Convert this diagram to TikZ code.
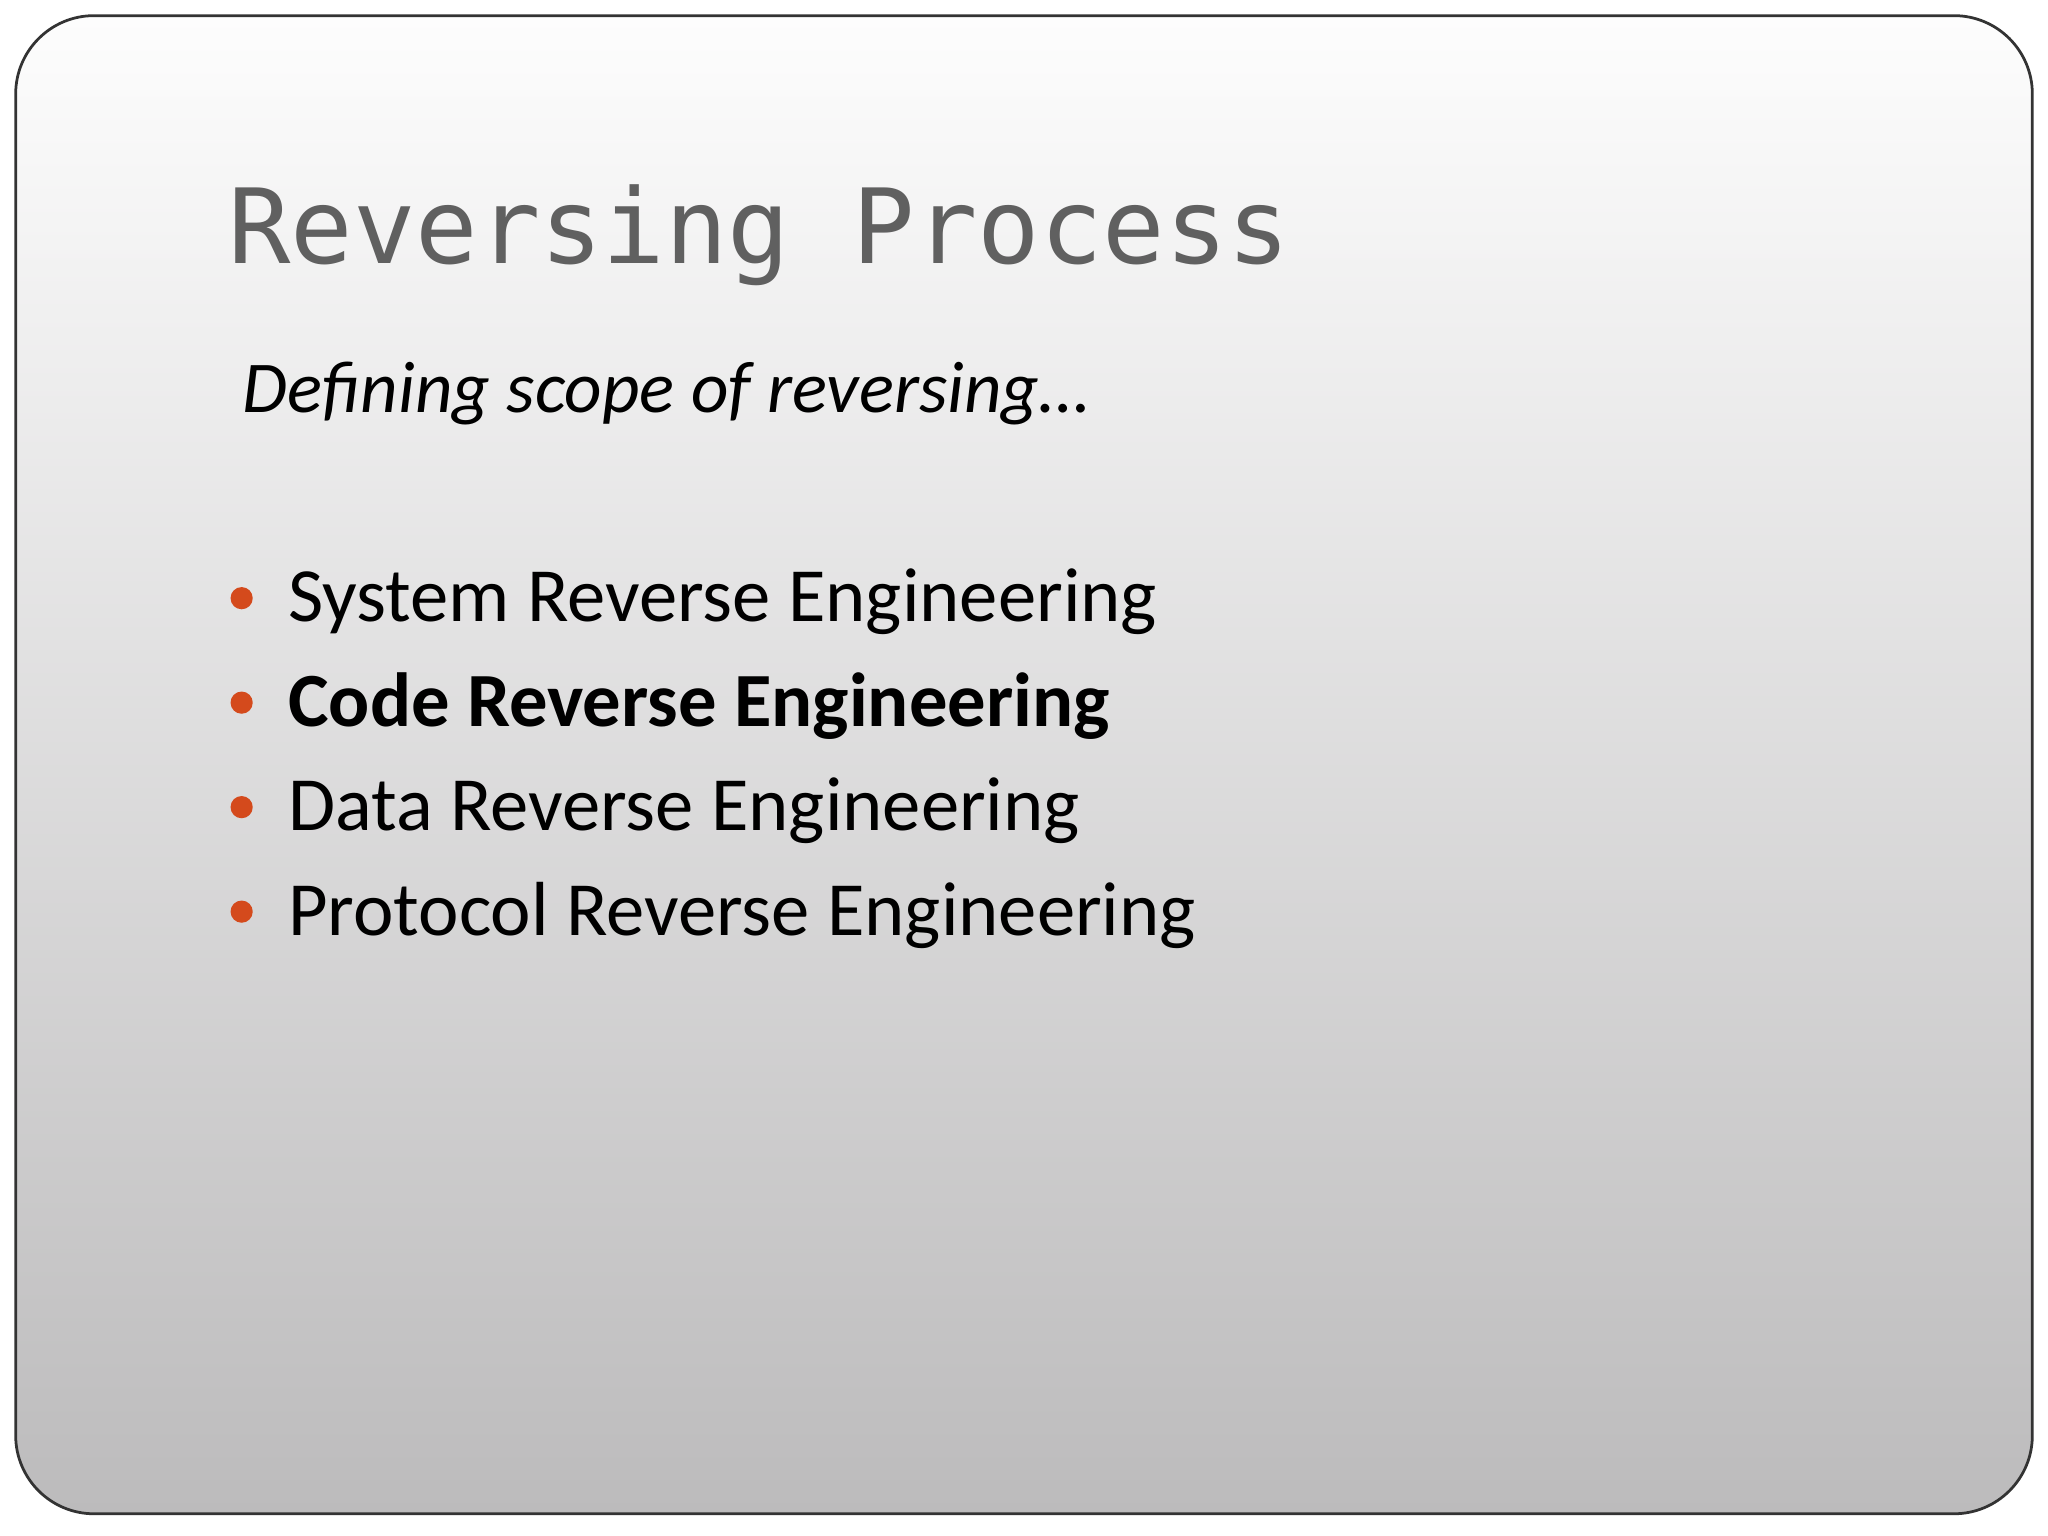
\documentclass[tikz,border=0pt]{standalone}
\usepackage{fontspec}
\setmainfont{Carlito}
\newfontfamily\titlefont{DejaVu Sans Mono}
\definecolor{topc}{HTML}{FDFDFD}
\definecolor{botc}{HTML}{BCBBBC}
\definecolor{bul}{HTML}{D44A1C}
\definecolor{titc}{HTML}{606060}
\tikzset{
  item/.style={anchor=base west, inner sep=0pt, font=\fontsize{16.7}{20}\selectfont, text=black},
  dot/.style={circle, fill=bul, inner sep=0pt, minimum size=0.17cm}
}
\begin{document}
\begin{tikzpicture}
\useasboundingbox (0,0) rectangle (15.68,11.76);
\fill[white] (0,0) rectangle (15.68,11.76);
\shade[top color=topc, bottom color=botc, draw=black!80, line width=0.6pt, rounded corners=0.6cm]
  (0.12,0.17) rectangle (15.56,11.64);
\node[anchor=base west, inner sep=0pt, text=titc, font=\titlefont\fontsize{22.6}{26}\selectfont] (title) at (1.74,9.74) {Reversing Process};
\node[anchor=base west, inner sep=0pt, font=\itshape\fontsize{15.9}{20}\selectfont] (sub) at (1.85,8.6) {Defining scope of reversing…};
\node[item] (i1) at (2.2,7.0) {System Reverse Engineering};
\node[item, font=\bfseries\fontsize{16.7}{20}\selectfont] (i2) at (2.2,6.2) {Code Reverse Engineering};
\node[item] (i3) at (2.2,5.4) {Data Reverse Engineering};
\node[item] (i4) at (2.2,4.6) {Protocol Reverse Engineering};
\node[dot] (d1) at (1.85,7.18) {};
\node[dot] (d2) at (1.85,6.38) {};
\node[dot] (d3) at (1.85,5.58) {};
\node[dot] (d4) at (1.85,4.78) {};
\end{tikzpicture}
\end{document}
